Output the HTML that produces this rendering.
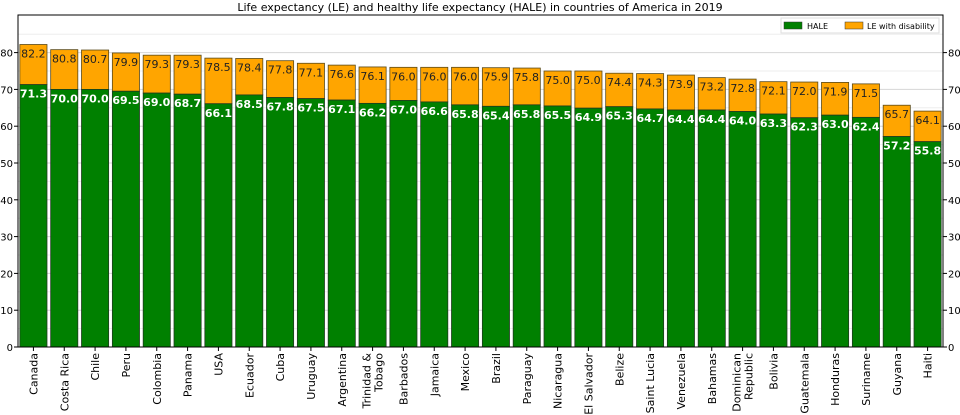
<!DOCTYPE html>
<html><head><meta charset="utf-8"><style>
body{margin:0;background:#fff;}
svg{display:block;font-family:"DejaVu Sans","Liberation Sans",sans-serif;}
</style></head><body>
<svg id="s" width="960" height="415" xmlns="http://www.w3.org/2000/svg">
<text x="480" y="11" text-anchor="middle" font-size="11" fill="#000">Life expectancy (LE) and healthy life expectancy (HALE) in countries of America in 2019</text>
<g id="g"></g>
</svg>
<script>
var d=[["Canada",82.2,71.3],["Costa Rica",80.8,70.0],["Chile",80.7,70.0],["Peru",79.9,69.5],["Colombia",79.3,69.0],["Panama",79.3,68.7],["USA",78.5,66.1],["Ecuador",78.4,68.5],["Cuba",77.8,67.8],["Uruguay",77.1,67.5],["Argentina",76.6,67.1],["Trinidad &|Tobago",76.1,66.2],["Barbados",76.0,67.0],["Jamaica",76.0,66.6],["Mexico",76.0,65.8],["Brazil",75.9,65.4],["Paraguay",75.8,65.8],["Nicaragua",75.0,65.5],["El Salvador",75.0,64.9],["Belize",74.4,65.3],["Saint Lucia",74.3,64.7],["Venezuela",73.9,64.4],["Bahamas",73.2,64.4],["Dominican|Republic",72.8,64.0],["Bolivia",72.1,63.3],["Guatemala",72.0,62.3],["Honduras",71.9,63.0],["Suriname",71.5,62.4],["Guyana",65.7,57.2],["Haiti",64.1,55.8]];
var L=18,R=943,T=15,B=347,k=3.68;
function y(v){return B-v*k;}
var h='';
for(var v=5;v<90;v+=5){h+='<line x1="'+L+'" x2="'+R+'" y1="'+y(v)+'" y2="'+y(v)+'" stroke="'+(v%10?'#eeeeee':'#d6d6d6')+'" stroke-width="1"/>';}
for(var v=0;v<=80;v+=10){var yy=y(v);
h+='<line x1="'+(L-4)+'" x2="'+L+'" y1="'+yy+'" y2="'+yy+'" stroke="#000"/>';
h+='<line x1="'+R+'" x2="'+(R+4)+'" y1="'+yy+'" y2="'+yy+'" stroke="#000"/>';
h+='<text x="'+(L-5)+'" y="'+(yy+4)+'" font-size="10" text-anchor="end">'+v+'</text>';
h+='<text x="'+(R+5)+'" y="'+(yy+4)+'" font-size="10">'+v+'</text>';}
var p=(R-L)/30,w=p*0.88;
d.forEach(function(c,i){
var cx=L+p*(i+0.5),x0=cx-w/2;
h+='<rect x="'+x0+'" y="'+y(c[1])+'" width="'+w+'" height="'+(y(c[2])-y(c[1]))+'" fill="#ffa500" stroke="#5a4a1a" stroke-width="0.8"/>';
h+='<rect x="'+x0+'" y="'+y(c[2])+'" width="'+w+'" height="'+(B-y(c[2]))+'" fill="#008000" stroke="#1f3a1f" stroke-width="0.8"/>';
h+='<text x="'+cx+'" y="'+(y(c[1])+13)+'" font-size="11" text-anchor="middle" fill="#222">'+c[1].toFixed(1)+'</text>';
h+='<text x="'+cx+'" y="'+(y(c[2])+13)+'" font-size="11" font-weight="bold" text-anchor="middle" fill="#fff">'+c[2].toFixed(1)+'</text>';
h+='<line x1="'+cx+'" x2="'+cx+'" y1="'+B+'" y2="'+(B+4)+'" stroke="#000"/>';
var n=c[0].split('|');
if(n.length==1){h+='<text transform="translate('+(cx+4)+','+(B+6)+') rotate(-90)" font-size="11" text-anchor="end">'+n[0].replace('&','&amp;')+'</text>';}
else{h+='<text transform="translate('+(cx-2)+','+(B+6)+') rotate(-90)" font-size="11" text-anchor="end">'+n[0].replace('&','&amp;')+'</text>';
h+='<text transform="translate('+(cx+10)+','+(B+6)+') rotate(-90)" font-size="11" text-anchor="end">'+n[1]+'</text>';}
});
h+='<rect x="'+L+'" y="'+T+'" width="'+(R-L)+'" height="'+(B-T)+'" fill="none" stroke="#000" stroke-width="1"/>';
h+='<rect x="781" y="18" width="158" height="15" fill="#fff" fill-opacity="0.8" stroke="#ddd"/>';
h+='<rect x="784" y="22" width="18" height="7" fill="#008000" stroke="#333" stroke-width="0.5"/>';
h+='<text x="807" y="29" font-size="8">HALE</text>';
h+='<rect x="845" y="22" width="18" height="7" fill="#ffa500" stroke="#333" stroke-width="0.5"/>';
h+='<text x="867" y="29" font-size="8">LE with disability</text>';
document.getElementById('g').innerHTML=h;
</script>
</body></html>
